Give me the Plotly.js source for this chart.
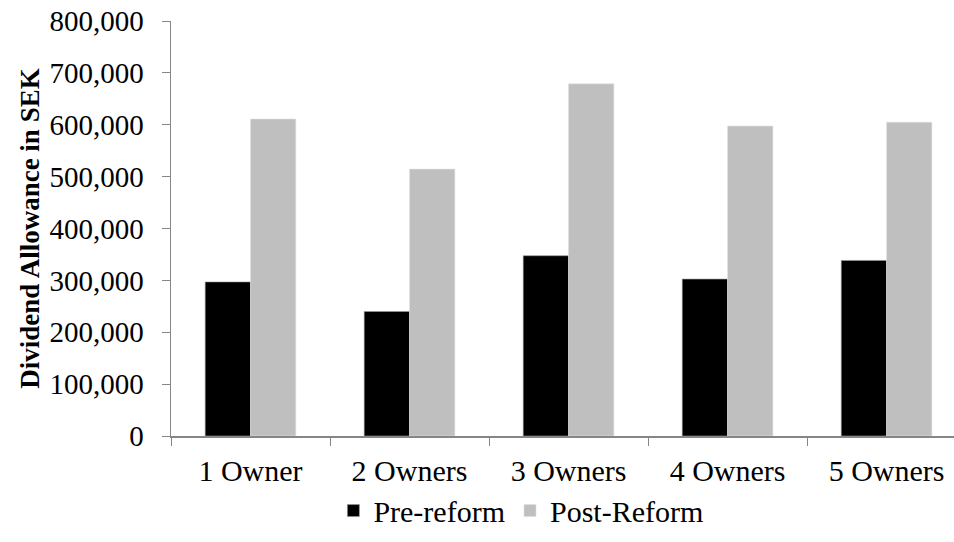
<!DOCTYPE html>
<html>
<head>
<meta charset="utf-8">
<script src="https://cdn.plot.ly/plotly-3.0.1.min.js"></script>
<style>html,body{margin:0;padding:0;background:#fff;}#chart{width:954px;height:542px;}</style>
</head>
<body>
<div id="chart"></div>
<script>
const categories = ["1 Owner", "2 Owners", "3 Owners", "4 Owners", "5 Owners"];
const preReform = [297000, 240000, 347500, 302500, 338500];
const postReform = [611000, 514500, 679000, 597500, 605000];
const yTickVals = [0, 100000, 200000, 300000, 400000, 500000, 600000, 700000, 800000];
const yTickText = ["0", "100,000", "200,000", "300,000", "400,000", "500,000", "600,000", "700,000", "800,000"];

const fontFam = 'Liberation Serif';
const axisColor = '#868686';

const traces = [
  {type: 'bar', name: 'Pre-reform', x: categories, y: preReform,
   marker: {color: '#000000', line: {color: '#9a9a9a', width: 0.6}}},
  {type: 'bar', name: 'Post-Reform', x: categories, y: postReform,
   marker: {color: '#bfbfbf', line: {color: '#e0e0e0', width: 0.6}}}
];

const layout = {
  width: 954, height: 542,
  margin: {l: 171, r: 0, t: 21, b: 106, autoexpand: false},
  paper_bgcolor: '#ffffff', plot_bgcolor: '#ffffff',
  barmode: 'group', bargap: 0.43, bargroupgap: 0,
  font: {family: fontFam, color: '#000000', size: 29},
  showlegend: true,
  legend: {orientation: 'h', x: 0.546, xref: 'container', xanchor: 'center', y: 0.01, yref: 'container', yanchor: 'bottom',
           font: {family: fontFam, size: 30, color: '#000'}, itemwidth: 30, traceorder: 'normal'},
  xaxis: {
    range: [-0.5, 4.424], tickson: 'boundaries', ticks: 'outside', ticklen: 8,
    tickcolor: axisColor, showline: true, linecolor: axisColor, linewidth: 1.5,
    showgrid: false, zeroline: false, tickfont: {family: fontFam, size: 30},
    ticklabelstandoff: 7, fixedrange: true, automargin: false
  },
  yaxis: {
    range: [0, 800000], tickvals: yTickVals, ticktext: yTickText,
    ticks: 'outside', ticklen: 8, tickcolor: axisColor, showline: true,
    linecolor: axisColor, linewidth: 1.5, showgrid: false, zeroline: false,
    tickfont: {family: fontFam, size: 29}, automargin: false, ticklabelstandoff: 12,
    title: {text: '<b>Dividend Allowance in SEK</b>', font: {family: fontFam, size: 27}, standoff: 2}
  }
};

Plotly.newPlot('chart', traces, layout, {displayModeBar: false, staticPlot: true});
</script>
</body>
</html>
